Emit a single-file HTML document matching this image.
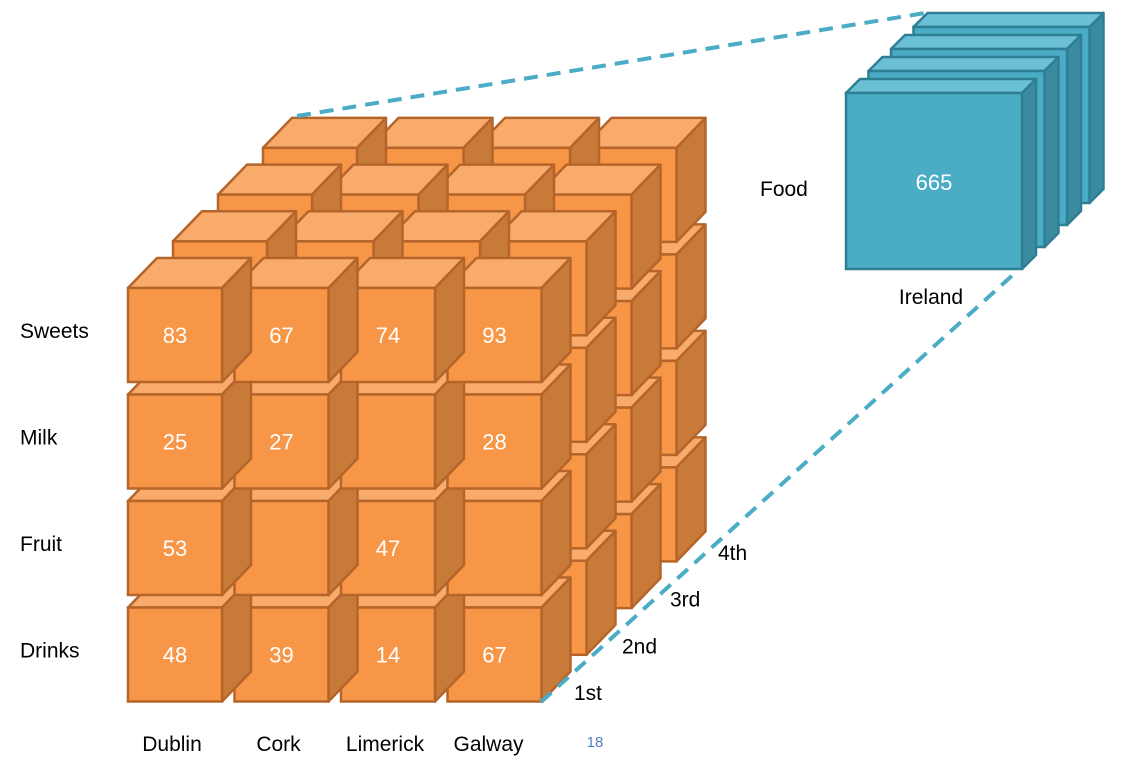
<!DOCTYPE html>
<html><head><meta charset="utf-8"><style>
body{margin:0;background:#fff;width:1134px;height:763px;overflow:hidden}
text{font-family:"Liberation Sans","DejaVu Sans",sans-serif}
</style></head><body>
<svg id="chart" width="1134" height="763" viewBox="0 0 1134 763" xmlns="http://www.w3.org/2000/svg">
<g id="cubes"></g>
<g id="labels"></g>
<g id="agg"></g>
</svg>
<script>
const cities = ["Dublin","Cork","Limerick","Galway"];
const foods = ["Sweets","Milk","Fruit","Drinks"];
const layers = ["1st","2nd","3rd","4th"];
const values = [[83,67,74,93],[25,27,null,28],[53,null,47,null],[48,39,14,67]];
const total = 665;
const aggLabels = ["Food","Ireland"];

const NS="http://www.w3.org/2000/svg";
function mk(tag,attrs,parent){const e=document.createElementNS(NS,tag);for(const k in attrs)e.setAttribute(k,attrs[k]);parent.appendChild(e);return e;}
const X0=128,Y0=288,S=94,P=106.5,DX=29,DY=-30,LX=45,LY=-46.7;
const colX=c=>X0+c*P, rowY=r=>Y0+r*P;
const g=document.getElementById('cubes');
function cube(x,y,s,dx,dy,cols,parent,name){
  const grp=mk('g',{},parent);
  
  
  const sw=2.5;
  mk('polygon',{points:`${x},${y} ${x+dx},${y+dy} ${x+s+dx},${y+dy} ${x+s},${y}`,fill:cols[1],stroke:cols[3],'stroke-width':sw,'stroke-linejoin':'round'},grp);
  mk('polygon',{points:`${x+s},${y} ${x+s+dx},${y+dy} ${x+s+dx},${y+s+dy} ${x+s},${y+s}`,fill:cols[2],stroke:cols[3],'stroke-width':sw,'stroke-linejoin':'round'},grp);
  mk('rect',{x:x,y:y,width:s,height:s,fill:cols[0],stroke:cols[3],'stroke-width':sw},grp);
  return grp;
}
const OR=["#F79646","#F9AB6C","#C87A38","#B5652A"];
for(let l=layers.length-1;l>=0;l--){
  for(let r=foods.length-1;r>=0;r--){
    for(let c=cities.length-1;c>=0;c--){
      const x=colX(c)+l*LX,y=rowY(r)+l*LY;
      const grp=cube(x,y,S,DX,DY,OR,g,'cube-'+cities[c].toLowerCase()+'-'+foods[r].toLowerCase()+'-'+layers[l]);
      if(l===0&&values[r][c]!==null){
        const t=mk('text',{x:x+S/2,y:y+S/2+8,'text-anchor':'middle','font-size':22,fill:'#fff'},grp);
        
        
        t.textContent=values[r][c];
      }
    }
  }
}
const lb=document.getElementById('labels');
foods.forEach((f,r)=>{const t=mk('text',{x:20,y:rowY(r)+50,'font-size':21,fill:'#000'},lb);


t.textContent=f;});
cities.forEach((cn,c)=>{const t=mk('text',{x:colX(c)+S/2-(c===3?6:3),y:751,'text-anchor':'middle','font-size':21,fill:'#000'},lb);


t.textContent=cn;});
layers.forEach((ln,l)=>{const t=mk('text',{x:574+l*48,y:700+l*LY,'font-size':21,fill:'#000'},lb);


t.textContent=ln;});
const pn=mk('text',{x:595,y:747,'text-anchor':'middle','font-size':15,fill:'#4F81BD'},lb);


pn.textContent='18';
const ag=document.getElementById('agg');
const d1=mk('line',{x1:297,y1:116,x2:925,y2:13,stroke:'#4BACC6','stroke-width':4,'stroke-dasharray':'14,9'},ag);


const d2=mk('line',{x1:541,y1:702,x2:1015,y2:273,stroke:'#4BACC6','stroke-width':4,'stroke-dasharray':'14,9'},ag);


const BL=["#4BACC6","#6CC0D6","#3A8BA0","#2F7F94"];
for(let l=3;l>=0;l--){
  const grp=cube(846+l*22.5,93+l*-22,176,14,-14,BL,ag,'aggregate-cube-'+layers[l]);
  if(l===0){const t=mk('text',{x:934,y:190,'text-anchor':'middle','font-size':22,fill:'#fff'},grp);
  
  
  t.textContent=total;}
}
const fl=mk('text',{x:760,y:196,'font-size':21,fill:'#000'},ag);


fl.textContent=aggLabels[0];
const il=mk('text',{x:931,y:304,'text-anchor':'middle','font-size':21,fill:'#000'},ag);


il.textContent=aggLabels[1];
</script>
</body></html>
